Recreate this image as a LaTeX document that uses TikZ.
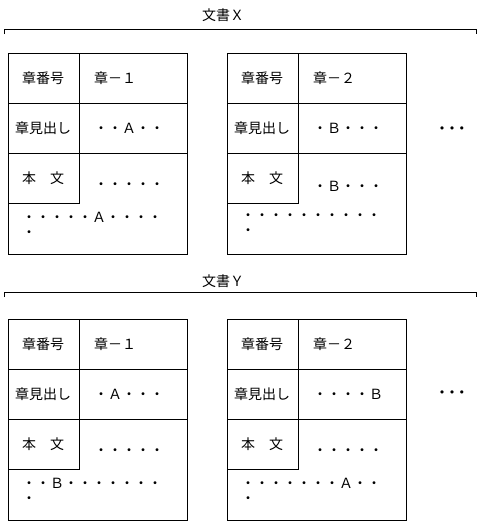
\documentclass[tikz,border=0pt]{standalone}
\usepackage{fontspec}
\setmainfont{Noto Sans CJK JP}
\newfontfamily\symfont{DejaVu Sans}
\usepackage{xcolor}
\usetikzlibrary{positioning}
\tikzset{
  cell/.style={draw=black, line width=0.9pt},
  lbl/.style={font=\fontsize{14}{15}\selectfont, inner sep=0pt},
  val/.style={lbl, anchor=west},
  more/.style={inner sep=0pt, font=\symfont\fontsize{11}{12}\selectfont},
}

\begin{document}
\begin{tikzpicture}[x=1pt,y=-1pt]
  \useasboundingbox (0,0) rectangle (481,522);
  % document titles and brackets
  \node[lbl] (titleX) at (223,15) {文書Ｘ};
  \draw[cell] (4,34) -- (4,29) -- (476,29) -- (476,34);
  \node[lbl] (titleY) at (223,281) {文書Ｙ};
  \draw[cell] (4,297) -- (4,292) -- (476,292) -- (476,297);
  % chapter boxes
  \foreach \L/\T/\n/\num/\head/\body/\rest in {
      8/53/xa/{章－１}/{・・Ａ・・}/{・・・・・}/{・・・・・Ａ・・・・},
      227/53/xb/{章－２}/{・Ｂ・・・}/{・Ｂ・・・}/{・・・・・・・・・・},
      8/319/ya/{章－１}/{・Ａ・・・}/{・・・・・}/{・・Ｂ・・・・・・・},
      227/319/yb/{章－２}/{・・・・Ｂ}/{・・・・・}/{・・・・・・・Ａ・・}} {
    \draw[cell] (\L,\T) rectangle (\L+179,\T+201);
    \draw[cell] (\L,\T+50) -- (\L+179,\T+50) (\L,\T+100) -- (\L+179,\T+100);
    \draw[cell] (\L+71,\T) -- (\L+71,\T+150) -- (\L,\T+150);
    \node[lbl] (\n-k1) at (\L+35,\T+25) {章番号};
    \node[lbl] (\n-k2) at (\L+35,\T+75) {章見出し};
    \node[lbl] (\n-k3) at (\L+35,\T+125) {本　文};
    \node[val] (\n-num) at (\L+86,\T+25) {\num};
    \node[val] (\n-head) at (\L+86,\T+75) {\head};
    \node[val] (\n-body) at (\L+86,\T+133) {\body};
    \node[val, align=left] (\n-rest) at (\L+14,\T+172) {\rest\\・};
  }
  % more chapters
  \node[more] (moreX) at (452,130) {•\kern3.5pt•\kern3.5pt•};
  \node[more] (moreY) at (452,394) {•\kern3.5pt•\kern3.5pt•};
\end{tikzpicture}
\end{document}
